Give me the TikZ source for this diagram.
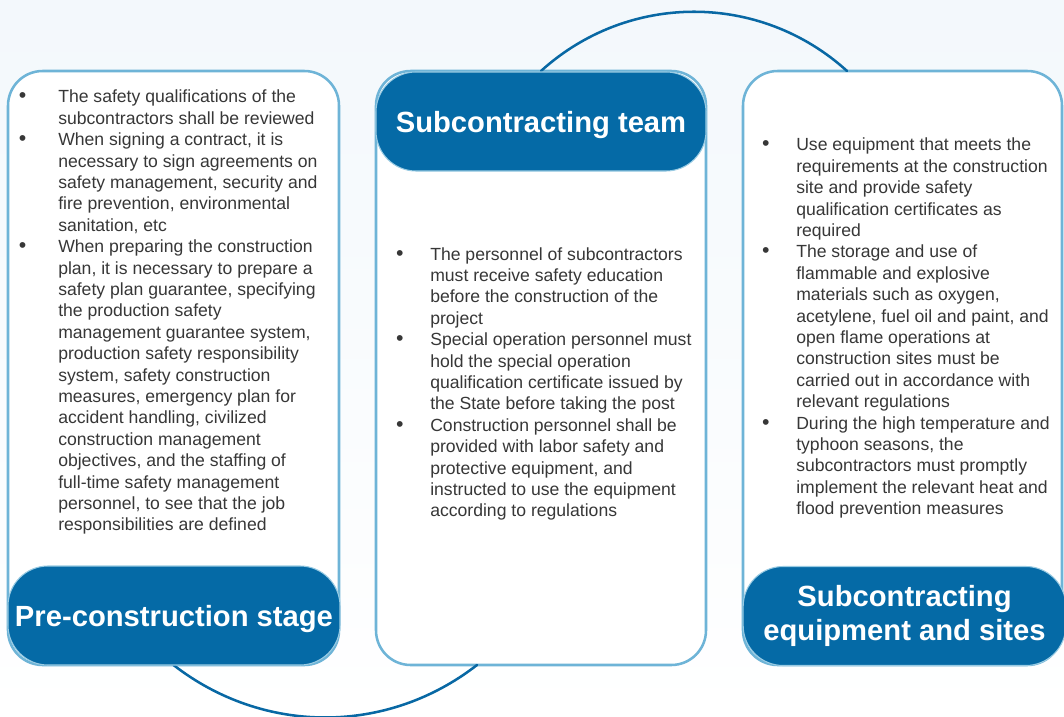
\documentclass[tikz,border=0pt]{standalone}
\usepackage{fontspec}
\setmainfont{Liberation Sans}
\usepackage{xcolor}
\definecolor{tabblue}{RGB}{5,106,166}
\definecolor{rimblue}{RGB}{110,180,215}
\definecolor{arcblue}{RGB}{8,104,164}
\definecolor{bodygray}{RGB}{55,55,55}
\definecolor{bgtop}{RGB}{243,248,252}
\usepackage{tikz}
\newcommand{\bul}[1][20pt]{\llap{{\fontsize{16}{16}\selectfont\textbullet}\hspace{#1}}}

\begin{document}
\begin{tikzpicture}[x=0.75pt,y=-0.75pt,line cap=round]
	\tikzstyle{panel}=[draw=rimblue,line width=1.9pt,fill=white,rounded corners=26pt,minimum height=445.5pt,inner sep=0pt,outer sep=0pt];
	\tikzstyle{tab}=[draw=rimblue!70,line width=0.8pt,fill=tabblue,rounded corners=30pt,minimum height=74.25pt,inner sep=0pt,outer sep=0pt,text=white,align=center,font=\fontsize{21.9}{25.5}\selectfont\bfseries];
	\tikzstyle{body}=[anchor=base west,inner sep=0pt,text=bodygray,font=\fontsize{13.2}{16.05}\selectfont];
	\tikzstyle{ring}=[draw=arcblue,line width=1.9pt];
	\shade[top color=bgtop,bottom color=white] (0,0) rectangle (1064,717);
	\useasboundingbox (0,0) rectangle (1064,717);
	% panels
	\node[panel,minimum width=248.25pt] (prebox) at (173.5,368) {};
	\node[panel,minimum width=247.5pt] (midbox) at (541,368) {};
	\node[panel,minimum width=239.25pt] (eqbox) at (902.5,368) {};
	\coordinate (eqfoot) at ([xshift=-41.6pt]eqbox.north);
	\coordinate (midfoot) at ([xshift=75.75pt]midbox.south west);
	\draw[ring] (midbox.north) .. controls +(87,-79) and +(-87,-79) .. (eqfoot);
	\draw[ring] (prebox.south) .. controls +(90,70) and +(-90,70) .. (midfoot);
	% tabs
	\node[tab,minimum width=249pt,text depth=0pt] (pretab) at (174,615.5) {Pre-construction stage};
	\node[tab,minimum width=247.5pt,text depth=0pt] (midtab) at (541,121.5) {Subcontracting team};
	\node[tab,minimum width=242pt] (eqtab) at (904.5,616) {Subcontracting\\equipment and sites};
	% texts
	\node[body] (pretext) at (58,103) {\begin{tabular}[t]{@{}l@{}}
		\bul[24pt]The safety qualifications of the\\
		subcontractors shall be reviewed\\
		\bul[24pt]When signing a contract, it is\\
		necessary to sign agreements on\\
		safety management, security and\\
		fire prevention, environmental\\
		sanitation, etc\\
		\bul[24pt]When preparing the construction\\
		plan, it is necessary to prepare a\\
		safety plan guarantee, specifying\\
		the production safety\\
		management guarantee system,\\
		production safety responsibility\\
		system, safety construction\\
		measures, emergency plan for\\
		accident handling, civilized\\
		construction management\\
		objectives, and the staffing of\\
		full-time safety management\\
		personnel, to see that the job\\
		responsibilities are defined
	\end{tabular}};
	\node[body] (midtext) at (430,260) {\begin{tabular}[t]{@{}l@{}}
		\bul The personnel of subcontractors\\
		must receive safety education\\
		before the construction of the\\
		project\\
		\bul Special operation personnel must\\
		hold the special operation\\
		qualification certificate issued by\\
		the State before taking the post\\
		\bul Construction personnel shall be\\
		provided with labor safety and\\
		protective equipment, and\\
		instructed to use the equipment\\
		according to regulations
	\end{tabular}};
	\node[body] (eqtext) at (796,151) {\begin{tabular}[t]{@{}l@{}}
		\bul Use equipment that meets the\\
		requirements at the construction\\
		site and provide safety\\
		qualification certificates as\\
		required\\
		\bul The storage and use of\\
		flammable and explosive\\
		materials such as oxygen,\\
		acetylene, fuel oil and paint, and\\
		open flame operations at\\
		construction sites must be\\
		carried out in accordance with\\
		relevant regulations\\
		\bul During the high temperature and\\
		typhoon seasons, the\\
		subcontractors must promptly\\
		implement the relevant heat and\\
		flood prevention measures
	\end{tabular}};
\end{tikzpicture}
\end{document}
